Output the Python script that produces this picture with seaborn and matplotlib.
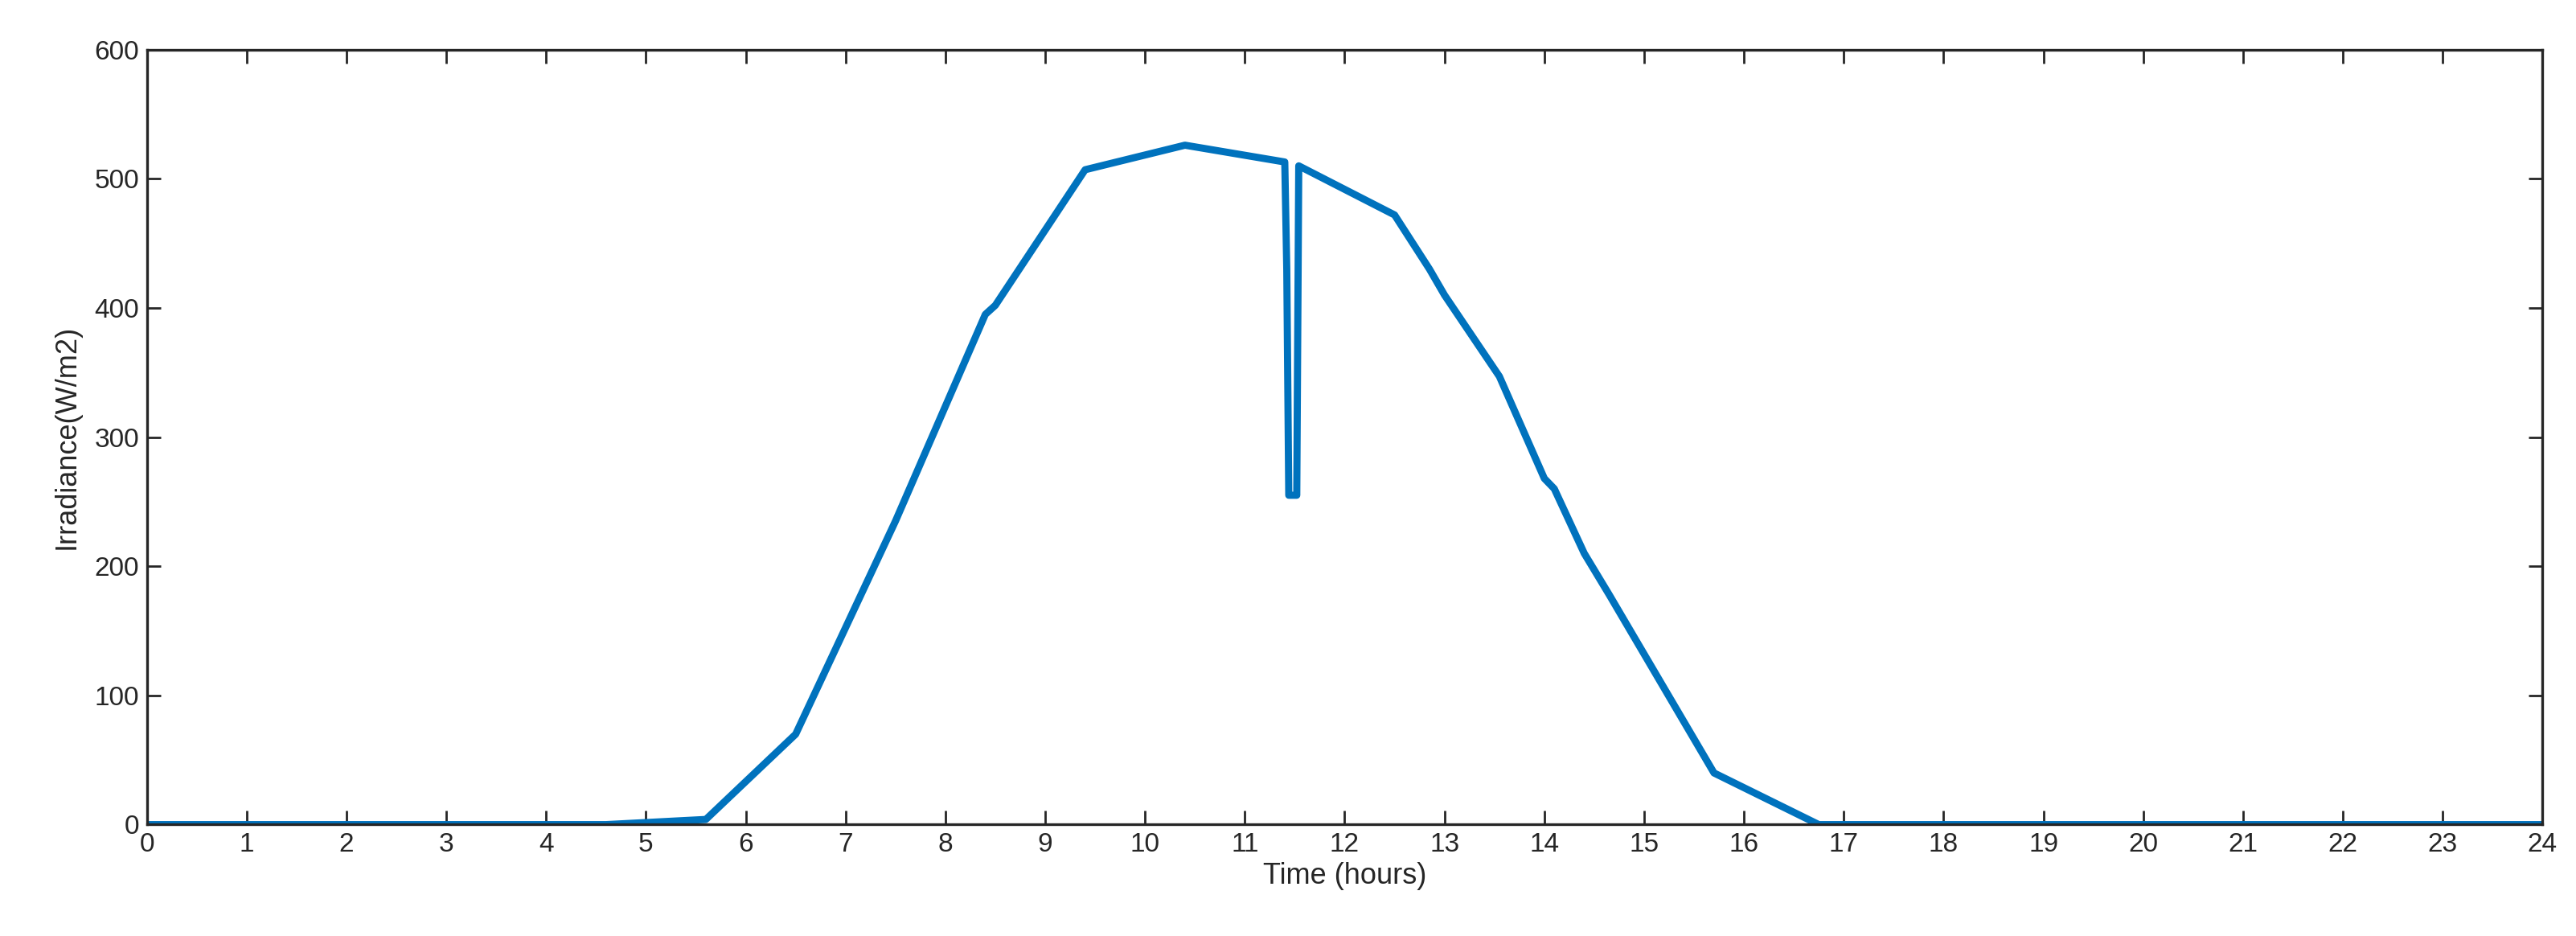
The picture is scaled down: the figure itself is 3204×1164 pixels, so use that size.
import matplotlib
matplotlib.use("Agg")
import matplotlib.pyplot as plt
import seaborn as sns
import pandas as pd

time_h = [0, 4.6, 5.6, 6.5, 7.5, 8.4, 8.5, 9.4, 10.4, 11.4, 11.42, 11.44, 11.52, 11.54,
          12.5, 12.85, 13.0, 13.55, 14.0, 14.1, 14.4, 14.65, 15.7, 16.75, 24]
irradiance = [0, 0, 4, 70, 235, 395, 402, 507, 526, 513, 430, 255, 255, 510,
              472, 430, 410, 347, 268, 260, 210, 178, 40, 0, 0]
x_ticks = list(range(0, 25))
y_ticks = [0, 100, 200, 300, 400, 500, 600]

sns.set_style("white")
plt.rcParams['font.family'] = ['Liberation Sans', 'DejaVu Sans']

df = pd.DataFrame({"t": time_h, "g": irradiance})
fig = plt.figure(figsize=(16.02, 5.82), dpi=200)
ax = fig.add_axes([0.057, 0.119, 0.930, 0.828])
sns.lineplot(data=df, x="t", y="g", ax=ax, color="#0072BD", linewidth=3.2, sort=False)
ax.set_xlim(0, 24)
ax.set_ylim(0, 600)
ax.set_xticks(x_ticks)
ax.set_yticks(y_ticks)
ax.tick_params(direction="in", length=6, width=1, labelsize=12, top=True, right=True,
               bottom=True, left=True, colors="#262626")
ax.tick_params(axis="x", labelcolor="#262626")
for s in ax.spines.values():
    s.set_color("#262626")
    s.set_linewidth(1.2)
ax.set_xlabel("Time (hours)", fontsize=13, labelpad=2)
ax.set_ylabel("Irradiance(W/m2)", fontsize=13, labelpad=6)
fig.savefig("out.png", dpi=200)
